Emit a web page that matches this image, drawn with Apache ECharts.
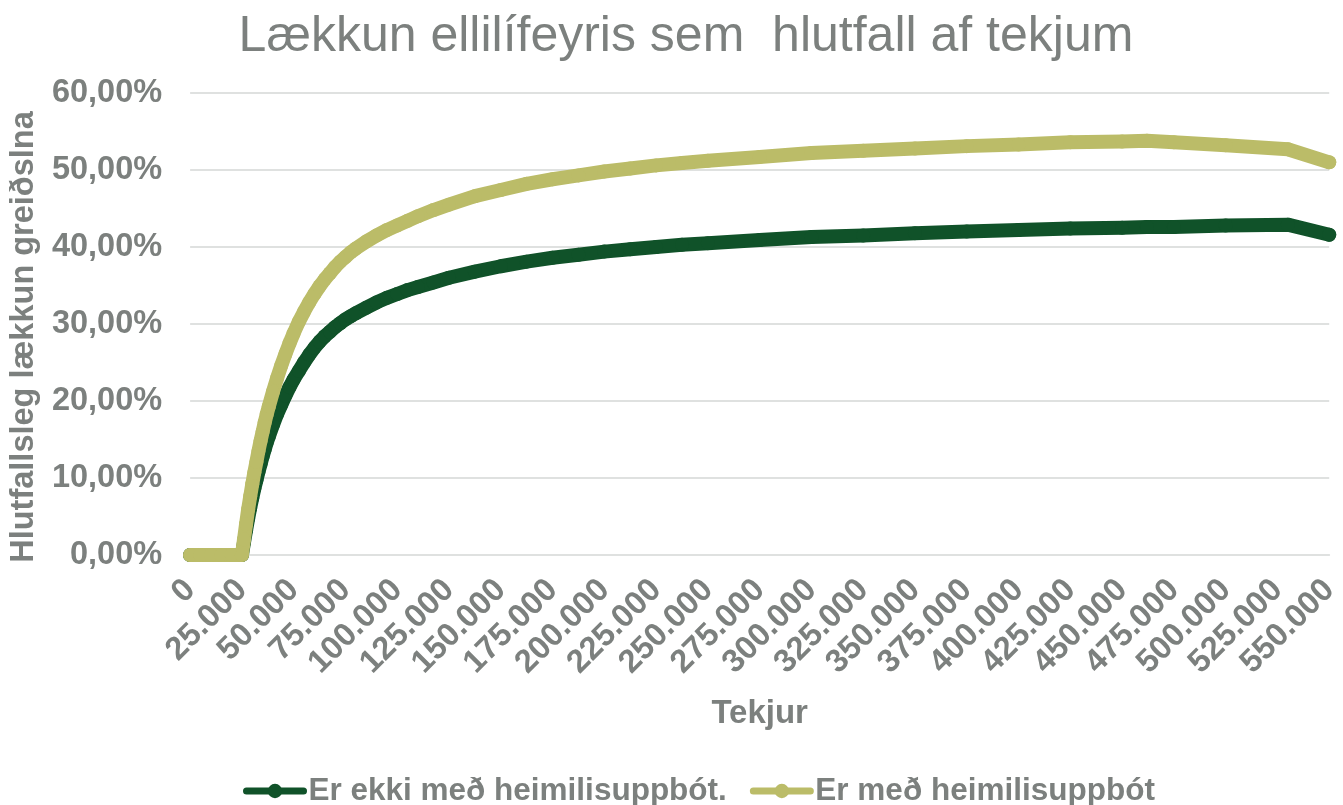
<!DOCTYPE html>
<html>
<head>
<meta charset="utf-8">
<script src="https://cdn.jsdelivr.net/npm/echarts@6/dist/echarts.min.js"></script>
<style>
html,body{margin:0;padding:0;background:#fff;}
#chart{width:1343px;height:805px;}
</style>
</head>
<body>
<div id="chart"></div>
<script>
// Income (Tekjur, kr)
const incomes = [0, 5000, 10000, 15000, 20000, 25000, 26000, 27000, 28000, 29000, 30000, 31000, 32000, 33000, 34000, 35000, 36000, 37000, 38000, 40000, 42000, 44000, 46000, 48000, 50000, 52500, 55000, 57500, 60000, 62500, 65000, 67500, 70000, 72500, 75000, 77500, 80000, 85000, 90000, 95000, 100000, 105000, 110000, 117500, 125000, 137500, 150000, 162500, 175000, 187500, 200000, 212500, 225000, 237500, 250000, 275000, 300000, 325000, 350000, 375000, 400000, 425000, 450000, 462000, 475000, 500000, 530000, 550000];
// Er ekki með heimilisuppbót (%)
const withoutSupplement = [0, 0, 0, 0, 0, 0, 1.6, 3.2, 4.7, 6.1, 7.4, 8.6, 9.7, 10.8, 11.8, 12.8, 13.7, 14.6, 15.4, 16.9, 18.3, 19.5, 20.7, 21.8, 22.8, 23.9, 25.0, 26.0, 26.9, 27.7, 28.4, 29.0, 29.6, 30.1, 30.6, 31.0, 31.4, 32.1, 32.8, 33.4, 33.9, 34.4, 34.8, 35.4, 36.0, 36.8, 37.5, 38.1, 38.6, 39.0, 39.4, 39.7, 40.0, 40.3, 40.5, 40.9, 41.3, 41.5, 41.8, 42.0, 42.2, 42.4, 42.5, 42.6, 42.6, 42.8, 42.9, 41.6];
// Er með heimilisuppbót (%)
const withSupplement = [0, 0, 0, 0, 0, 0, 2.0, 4.0, 5.9, 7.6, 9.2, 10.7, 12.1, 13.5, 14.8, 16.0, 17.2, 18.3, 19.3, 21.2, 23.0, 24.6, 26.1, 27.5, 28.8, 30.3, 31.6, 32.8, 33.9, 34.9, 35.8, 36.6, 37.4, 38.1, 38.7, 39.3, 39.8, 40.7, 41.5, 42.2, 42.8, 43.4, 44.0, 44.8, 45.5, 46.6, 47.4, 48.2, 48.8, 49.3, 49.8, 50.2, 50.6, 50.9, 51.2, 51.7, 52.2, 52.5, 52.8, 53.1, 53.3, 53.6, 53.7, 53.8, 53.6, 53.2, 52.7, 51.0];

const seriesNames = ['Er ekki með heimilisuppbót.', 'Er með heimilisuppbót'];
const titleText = 'Lækkun ellilífeyris sem  hlutfall af tekjum';
const xAxisName = 'Tekjur';
const yAxisName = 'Hlutfallsleg lækkun greiðslna';

const gray = '#7c807e';
const green = '#105229';
const olive = '#bbbc68';
const fontFam = '"Liberation Sans", Arial, sans-serif';

const pairs = (ys) => incomes.map((x, i) => [x, ys[i]]);

const chart = echarts.init(document.getElementById('chart'), null, {renderer: 'canvas'});
chart.setOption({
  animation: false,
  backgroundColor: '#fff',
  title: {
    text: titleText,
    left: 681,
    textAlign: 'center',
    top: 7,
    textStyle: {color: gray, fontSize: 50, fontWeight: 'normal', fontFamily: fontFam}
  },
  grid: {left: 190, right: 9, top: 93, bottom: 250, containLabel: false},
  legend: {
    data: seriesNames,
    top: 770,
    left: 238,
    itemWidth: 57,
    itemHeight: 18,
    itemGap: 23,
    lineStyle: {width: 7},
    textStyle: {color: gray, fontSize: 31.5, fontWeight: 'bold', fontFamily: fontFam}
  },
  xAxis: {
    type: 'value',
    min: 0,
    max: 550000,
    interval: 25000,
    name: xAxisName,
    nameLocation: 'middle',
    nameGap: 142,
    nameTextStyle: {color: gray, fontSize: 33, fontWeight: 'bold', fontFamily: fontFam},
    axisLine: {show: true, lineStyle: {color: '#dfe1e0', width: 2}},
    axisTick: {show: false},
    splitLine: {show: false},
    axisLabel: {
      rotate: 45,
      margin: 30,
      color: gray,
      fontSize: 32.5,
      fontWeight: 'bold',
      fontFamily: fontFam,
      formatter: (v) => v === 0 ? '0' : (v / 1000) + '.000'
    }
  },
  yAxis: {
    type: 'value',
    min: 0,
    max: 60,
    interval: 10,
    name: yAxisName,
    nameLocation: 'middle',
    nameGap: 148,
    nameRotate: 90,
    nameTextStyle: {color: gray, fontSize: 32.5, fontWeight: 'bold', fontFamily: fontFam, padding: [0, 26, 0, 0]},
    axisLine: {show: false},
    axisTick: {show: false},
    splitLine: {show: true, lineStyle: {color: '#dfe1e0', width: 2}},
    axisLabel: {
      margin: 28,
      color: gray,
      fontSize: 32.5,
      fontWeight: 'bold',
      fontFamily: fontFam,
      formatter: (v) => v.toFixed(2).replace('.', ',') + '%'
    }
  },
  series: [
    {
      name: seriesNames[0],
      type: 'line',
      data: pairs(withoutSupplement),
      symbol: 'circle',
      symbolSize: 14,
      showSymbol: true,
      showAllSymbol: true,
      color: green,
      itemStyle: {color: green},
      lineStyle: {color: green, width: 14, cap: 'round', join: 'round'},
      z: 2
    },
    {
      name: seriesNames[1],
      type: 'line',
      data: pairs(withSupplement),
      symbol: 'circle',
      symbolSize: 14,
      showSymbol: true,
      showAllSymbol: true,
      color: olive,
      itemStyle: {color: olive},
      lineStyle: {color: olive, width: 14, cap: 'round', join: 'round'},
      z: 3
    }
  ]
});
</script>
</body>
</html>
